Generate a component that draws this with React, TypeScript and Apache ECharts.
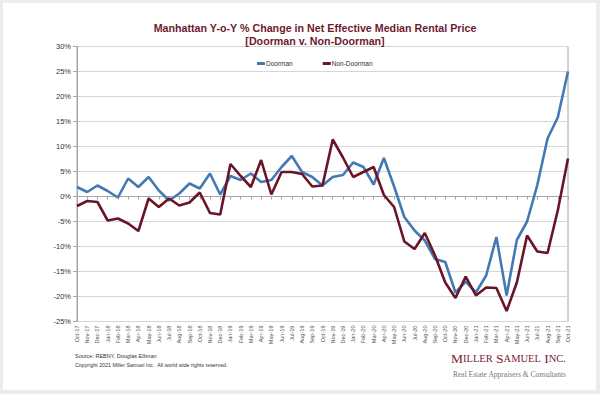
import React, { useEffect, useRef } from "react";
import * as echarts from "echarts";

const categories = [
  "Oct-17", "Nov-17", "Dec-17", "Jan-18", "Feb-18", "Mar-18", "Apr-18", "May-18", "Jun-18", "Jul-18",
  "Aug-18", "Sep-18", "Oct-18", "Nov-18", "Dec-18", "Jan-19", "Feb-19", "Mar-19", "Apr-19", "May-19",
  "Jun-19", "Jul-19", "Aug-19", "Sep-19", "Oct-19", "Nov-19", "Dec-19", "Jan-20", "Feb-20", "Mar-20",
  "Apr-20", "May-20", "Jun-20", "Jul-20", "Aug-20", "Sep-20", "Oct-20", "Nov-20", "Dec-20", "Jan-21",
  "Feb-21", "Mar-21", "Apr-21", "May-21", "Jun-21", "Jul-21", "Aug-21", "Sep-21", "Oct-21",
];

const doorman = [
  1.9, 0.9, 2.2, 1.1, -0.2, 3.6, 1.9, 3.9, 1.2, -0.8,
  0.6, 2.6, 1.6, 4.6, 0.4, 4.1, 3.3, 4.6, 2.9, 3.3,
  5.9, 8.1, 4.9, 3.9, 2.2, 3.9, 4.3, 6.8, 5.9, 2.4,
  7.7, 2.0, -4.1, -6.8, -8.8, -12.5, -13.1, -19.2, -17.0, -19.2,
  -15.8, -8.1, -19.8, -8.7, -5.0, 2.3, 11.6, 15.8, 25.0,
];

const nonDoorman = [
  -1.9, -0.9, -1.1, -4.8, -4.4, -5.4, -6.9, -0.4, -2.1, -0.4,
  -1.8, -1.2, 0.8, -3.3, -3.6, 6.5, 4.1, 1.9, 7.3, 0.4,
  4.9, 4.9, 4.5, 2.0, 2.2, 11.4, 7.8, 3.9, 4.9, 5.9,
  0.3, -2.1, -9.0, -10.5, -7.3, -11.8, -17.2, -20.3, -16.0, -19.8,
  -18.2, -18.3, -22.9, -17.2, -7.8, -11.0, -11.3, -2.8, 7.6,
];

const seriesNames = ["Doorman", "Non-Doorman"];
const titleLines = [
  "Manhattan Y-o-Y % Change in Net Effective Median Rental Price",
  "[Doorman v. Non-Doorman]",
];
const footerLines = [
  "Source: REBNY, Douglas Elliman",
  "Copyright 2021 Miller Samuel Inc.  All world wide rights reserved.",
];

const BLUE = "#4479b3";
const MAROON = "#6a1428";

export default function App() {
  const ref = useRef<HTMLDivElement>(null);

  useEffect(() => {
    if (!ref.current) return;
    const chart = echarts.init(ref.current, undefined, { renderer: "svg" });
    chart.setOption({
      animation: false,
      backgroundColor: "transparent",
      title: {
        text: titleLines.join("\n"),
        left: 310,
        top: 17,
        textAlign: "center",
        textStyle: {
          fontFamily: "Liberation Sans",
          fontSize: 10.7,
          fontWeight: "bold",
          color: "#6d1a2f",
          lineHeight: 12.5,
        },
      },
      legend: {
        data: seriesNames,
        left: 252,
        top: 55,
        icon: "rect",
        itemWidth: 8,
        itemHeight: 3,
        itemGap: 30,
        textStyle: { fontFamily: "Liberation Sans", fontSize: 6.5, color: "#333", padding: [0, 0, 0, -4] },
      },
      grid: {
        left: 77,
        right: 32,
        top: 46.5,
        bottom: 72.5,
        show: true,
        borderColor: "#a6a6a6",
        borderWidth: 1,
        containLabel: false,
      },
      xAxis: {
        type: "category",
        data: categories,
        boundaryGap: false,
        axisLine: { lineStyle: { color: "#a6a6a6" } },
        axisTick: { show: true, length: 3, lineStyle: { color: "#a6a6a6" } },
        axisLabel: {
          interval: 0,
          rotate: 90,
          fontSize: 5.6,
          color: "#555",
          margin: 4,
          fontFamily: "Liberation Sans",
        },
        splitLine: { show: false },
      },
      yAxis: {
        type: "value",
        min: -25,
        max: 30,
        interval: 5,
        axisLine: { show: true, lineStyle: { color: "#a6a6a6" } },
        axisTick: { show: true, length: 4, lineStyle: { color: "#a6a6a6" } },
        axisLabel: {
          formatter: "{value}%",
          fontSize: 7.5,
          color: "#333",
          margin: 6,
          fontFamily: "Liberation Sans",
        },
        splitLine: { lineStyle: { color: "#d6d6d6", width: 1 } },
      },
      series: [
        {
          name: seriesNames[0],
          type: "line",
          data: doorman,
          symbol: "none",
          color: BLUE,
          lineStyle: { width: 2.6, color: BLUE },
          z: 2,
        },
        {
          name: seriesNames[1],
          type: "line",
          data: nonDoorman,
          symbol: "none",
          color: MAROON,
          lineStyle: { width: 2.6, color: MAROON },
          z: 3,
        },
      ],
      graphic: [
        {
          type: "text",
          left: 75,
          top: 353,
          style: {
            text: footerLines[0],
            fontFamily: "Liberation Sans",
            fontSize: 5.5,
            fill: "#333",
          },
        },
        {
          type: "text",
          left: 75,
          top: 362.5,
          style: {
            text: footerLines[1],
            fontFamily: "Liberation Sans",
            fontSize: 5.3,
            fill: "#333",
          },
        },
        {
          type: "text",
          left: 451,
          top: 351,
          style: {
            text: "{b|M}{s|ILLER} {b|S}{s|AMUEL} {b|I}{s|NC.}",
            rich: {
              b: { fontFamily: "Liberation Serif", fontSize: 13.5, fill: "#7b2233" },
              s: { fontFamily: "Liberation Serif", fontSize: 10.5, fill: "#7b2233" },
            },
          },
        },
        {
          type: "text",
          left: 453,
          top: 370,
          style: {
            text: "Real Estate Appraisers & Consultants",
            fontFamily: "Liberation Serif",
            fontSize: 7.5,
            fill: "#777",
          },
        },
      ],
    });
    return () => chart.dispose();
  }, []);

  return (
    <div style={{ position: "fixed", left: 0, top: 0, width: 600, height: 394, background: "#ececec" }}>
      <div style={{ position: "absolute", left: 3, top: 3, width: 593, height: 387, background: "#fff" }} />
      <div ref={ref} style={{ position: "absolute", left: 0, top: 0, width: 600, height: 394 }} />
    </div>
  );
}
